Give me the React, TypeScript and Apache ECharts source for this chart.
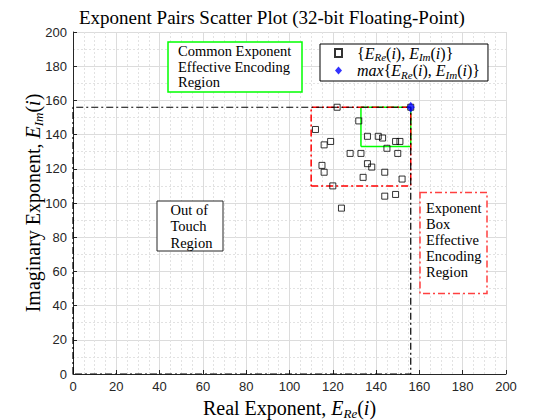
import React, { useEffect, useRef } from "react";
import * as echarts from "echarts";

// Exponent pairs (real, imaginary)
const pairRe = [122, 132, 112, 136, 141, 143, 119, 116, 149, 151, 145, 128, 133, 150, 115, 136, 138, 116, 144, 134, 152, 120, 144, 149, 124, 156];
const pairIm = [156, 148, 143, 139, 139, 138, 136, 134, 136, 136, 132, 129, 129, 129, 122, 123, 121, 118, 118, 115, 114, 110, 104, 105, 97, 156];
const maxPair = [156, 156];

// Region outlines (data coordinates, closed polylines)
const outOfTouchX = [0, 0, 156, 156, 0];
const outOfTouchY = [0, 156, 156, 0, 0];
const boxRegionX = [110, 156, 156, 110, 110];
const boxRegionY = [110, 110, 156, 156, 110];
const commonRegionX = [133, 156, 156, 133, 133];
const commonRegionY = [133, 133, 156, 156, 133];

const xTicks = [0, 20, 40, 60, 80, 100, 120, 140, 160, 180, 200];
const yTicks = [0, 20, 40, 60, 80, 100, 120, 140, 160, 180, 200];

const legendNames = ["pairs", "max"];
const titleText = "Exponent Pairs Scatter Plot (32-bit Floating-Point)";

const SERIF = '"Liberation Serif", "Times New Roman", serif';
const SANS = '"Liberation Sans", Arial, sans-serif';
const DASHDOT = [7, 3, 2, 3];

const zip = (xs: number[], ys: number[]) => xs.map((x, i) => [x, ys[i]]);

const mathRich = (size: number, sub: number, lh: number) => ({
  n: { fontFamily: SERIF, fontSize: size, color: "#000", lineHeight: lh, verticalAlign: "middle" },
  e: { fontFamily: SERIF, fontSize: size, fontStyle: "italic", color: "#000", lineHeight: lh, verticalAlign: "middle" },
  s: { fontFamily: SERIF, fontSize: sub, fontStyle: "italic", color: "#000", lineHeight: Math.round(lh / 2), verticalAlign: "bottom" },
  sp: { width: 10, lineHeight: lh },
});

export default function App() {
  const ref = useRef<HTMLDivElement>(null);
  useEffect(() => {
    if (!ref.current) return;
    const chart = echarts.init(ref.current, undefined, { renderer: "svg" });
    const xMin = xTicks[0];
    const xMax = xTicks[xTicks.length - 1];
    const yMin = yTicks[0];
    const yMax = yTicks[yTicks.length - 1];
    const axisCommon = {
      type: "value" as const,
      interval: 20,
      axisLine: { show: true, lineStyle: { color: "#262626", width: 1 } },
      axisTick: { show: true, inside: true, length: 4, lineStyle: { color: "#262626" } },
      axisLabel: { fontFamily: SANS, fontSize: 13, color: "#262626", margin: 6 },
      splitLine: { show: true, lineStyle: { color: "#dcdcdc", width: 1 } },
      minorSplitLine: { show: true, lineStyle: { color: "#e2e2e2", width: 1, type: [2, 2] } },
      nameLocation: "middle" as const,
      nameMoveOverlap: false,
    };
    const boxText = (x: number, y: number, text: string, lh: number) => ({
      type: "text",
      x,
      y,
      z: 101,
      style: { text, font: '14.5px "Liberation Serif"', lineHeight: lh, fill: "#000" },
    });
    chart.setOption({
      animation: false,
      backgroundColor: "#fff",
      title: {
        text: titleText,
        left: 74,
        top: 3,
        textStyle: { fontFamily: SERIF, fontSize: 19, fontWeight: "normal", color: "#000" },
      },
      grid: { left: 73, top: 32, width: 433, height: 342, containLabel: false, outerBoundsMode: "none" },
      xAxis: {
        ...axisCommon,
        min: xMin,
        max: xMax,
        minorTick: { show: false, splitNumber: 4 },
        name: "{n|Real Exponent, }{e|E}{s|Re}{n|(}{e|i}{n|)}",
        nameGap: 22,
        nameTextStyle: { rich: mathRich(20, 13, 24) },
      },
      yAxis: {
        ...axisCommon,
        min: yMin,
        max: yMax,
        minorTick: { show: false, splitNumber: 2 },
        name: "{n|Imaginary Exponent, }{e|E}{s|Im}{n|(}{e|i}{n|)}",
        nameGap: 28,
        nameTextStyle: { rich: mathRich(20, 13, 24) },
      },
      legend: {
        data: legendNames,
        orient: "vertical",
        left: 320,
        top: 44,
        padding: [1, 8, 1, 14],
        itemGap: 0,
        itemWidth: 7,
        itemHeight: 8,
        borderColor: "#000",
        borderWidth: 1,
        backgroundColor: "#fff",
        selectedMode: false,
        formatter: (name: string) =>
          name === "pairs"
            ? "{sp| }{n|{}{e|E}{s|Re}{n|(}{e|i}{n|), }{e|E}{s|Im}{n|(}{e|i}{n|)}}"
            : "{sp| }{e|max}{n|{}{e|E}{s|Re}{n|(}{e|i}{n|), }{e|E}{s|Im}{n|(}{e|i}{n|)}}",
        textStyle: { fontFamily: SERIF, fontSize: 16, color: "#000", rich: mathRich(16, 11, 19) },
      },
      series: [
        {
          name: "common",
          type: "line",
          data: zip(commonRegionX, commonRegionY),
          symbol: "none",
          silent: true,
          z: 2,
          lineStyle: { color: "#00ff00", width: 1.5, type: "solid" },
        },
        {
          name: "box",
          type: "line",
          data: zip(boxRegionX, boxRegionY),
          symbol: "none",
          silent: true,
          z: 3,
          lineStyle: { color: "#ff0000", width: 1.5, type: DASHDOT },
        },
        {
          name: "outline",
          type: "line",
          data: zip(outOfTouchX, outOfTouchY),
          symbol: "none",
          silent: true,
          z: 4,
          lineStyle: { color: "#000", width: 1.2, type: DASHDOT },
        },
        {
          name: "pairs",
          type: "scatter",
          data: zip(pairRe, pairIm),
          symbol: "rect",
          symbolSize: 6,
          z: 5,
          itemStyle: { color: "rgba(255,255,255,0)", borderColor: "#000", borderWidth: 1 },
        },
        {
          name: "max",
          type: "scatter",
          data: [maxPair],
          symbol: "diamond",
          symbolSize: [8, 11],
          z: 6,
          itemStyle: { color: "#0000ff" },
        },
      ],
      graphic: [
        {
          type: "rect",
          z: 100,
          shape: { x: 168, y: 42, width: 134, height: 50 },
          style: { fill: "#fff", stroke: "#00ff00", lineWidth: 1.5 },
        },
        boxText(178, 43.5, "Common Exponent\nEffective Encoding\nRegion", 15.5),
        {
          type: "rect",
          z: 100,
          shape: { x: 157, y: 201, width: 66, height: 50 },
          style: { fill: "#fff", stroke: "#262626", lineWidth: 1 },
        },
        boxText(170.5, 202, "Out of\nTouch\nRegion", 16.3),
        {
          type: "rect",
          z: 100,
          shape: { x: 420, y: 192.5, width: 67, height: 101 },
          style: { fill: "#fff", stroke: "#ff4040", lineWidth: 1.5, lineDash: DASHDOT },
        },
        boxText(426, 200.5, "Exponent\nBox\nEffective\nEncoding\nRegion", 15.8),
      ],
    });
    return () => chart.dispose();
  }, []);
  return <div ref={ref} style={{ position: "fixed", left: 0, top: 0, width: 560, height: 420 }} />;
}
